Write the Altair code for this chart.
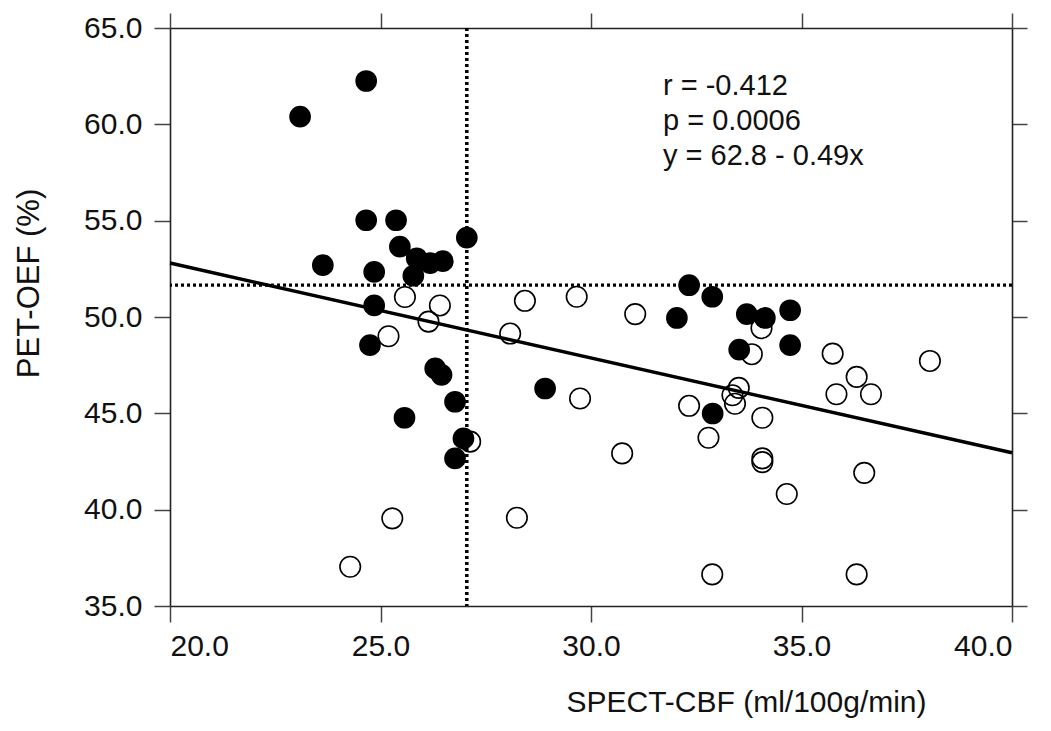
import altair as alt
import pandas as pd

# Filled circles (x = SPECT-CBF, y = PET-OEF)
filled_x = [24.66, 23.09, 24.66, 25.37, 27.05, 25.46, 25.86, 26.18, 26.48, 25.78,
            23.63, 24.85, 24.85, 24.75, 26.30, 26.45, 26.77, 25.57, 26.97, 26.77,
            28.91, 32.33, 32.88, 32.04, 33.70, 34.13, 34.73, 33.52, 34.73, 32.89]
filled_y = [62.25, 60.40, 55.02, 55.02, 54.12, 53.65, 53.05, 52.80, 52.90, 52.14,
            52.69, 52.34, 50.60, 48.54, 47.33, 47.00, 45.60, 44.77, 43.70, 42.66,
            46.29, 51.65, 51.05, 49.95, 50.15, 49.95, 50.35, 48.31, 48.54, 44.99]

# Open circles
open_x = [25.58, 26.41, 26.14, 25.19, 27.13, 25.28, 24.28, 28.43, 29.66, 31.05,
          28.08, 34.05, 33.82, 29.74, 32.33, 32.79, 33.51, 33.36, 33.42, 34.07,
          34.07, 34.07, 30.74, 28.24, 32.88, 35.74, 38.05, 36.31, 35.83, 36.65,
          36.49, 34.65, 36.31]
open_y = [51.04, 50.60, 49.76, 49.00, 43.53, 39.55, 37.04, 50.84, 51.05, 50.15,
          49.14, 49.42, 48.07, 45.77, 45.39, 43.73, 46.32, 45.94, 45.50, 44.77,
          42.66, 42.47, 42.92, 39.58, 36.64, 48.10, 47.72, 46.89, 45.99, 45.99,
          41.91, 40.81, 36.64]

# Regression line end points (as drawn)
fit_x = [20.0, 40.0]
fit_y = [52.80, 42.95]

# Dotted cut-off lines
cut_x = [27.05]
cut_y = [51.65]

stats_lines = ["r = -0.412", "p = 0.0006", "y = 62.8 - 0.49x"]

x_ticks = [20, 25, 30, 35, 40]
y_ticks = [35, 40, 45, 50, 55, 60, 65]

FONT = "Liberation Sans"

filled_df = pd.DataFrame({"x": filled_x, "y": filled_y})
open_df = pd.DataFrame({"x": open_x, "y": open_y})
fit_df = pd.DataFrame({"x": fit_x, "y": fit_y})
vcut_df = pd.DataFrame({"x": cut_x})
hcut_df = pd.DataFrame({"y": cut_y})
stats_df = pd.DataFrame({"t": [stats_lines]})

xs = alt.Scale(domain=[20, 40], nice=False, zero=False)
ys = alt.Scale(domain=[35, 65], nice=False, zero=False)

axis_common = dict(
    grid=False, domainColor="#222", domainWidth=1.6, tickColor="#444",
    tickWidth=1.5, labelFont=FONT, titleFont=FONT, labelColor="#111",
    titleColor="#111", titleFontWeight="normal",
)

x_bottom = alt.Axis(orient="bottom", values=x_ticks, format=".1f", tickSize=16,
                    labelPadding=9, labelFontSize=30, title="SPECT-CBF (ml/100g/min)",
                    titleFontSize=30, titleX=576, titleY=96, titleAlign="center",
                    titleBaseline="middle", **axis_common)
y_left = alt.Axis(orient="left", values=y_ticks, format=".1f", tickSize=16,
                  labelPadding=12, labelFontSize=30, title="PET-OEF (%)",
                  titleFontSize=31, titleX=-141, titleY=255, titleAlign="center",
                  titleBaseline="middle", titleAngle=-90, **axis_common)
x_top = alt.Axis(orient="top", values=x_ticks, tickSize=15, labels=False, title=None,
                 **axis_common)
y_right = alt.Axis(orient="right", values=y_ticks, tickSize=15, labels=False, title=None,
                   **axis_common)

filled = alt.Chart(filled_df).mark_circle(size=470, color="black", opacity=1).encode(
    x=alt.X("x:Q", scale=xs, axis=x_bottom),
    y=alt.Y("y:Q", scale=ys, axis=y_left),
)

opened = alt.Chart(open_df).mark_point(shape="circle", filled=False, size=420,
                                       strokeWidth=1.6, color="black", opacity=1).encode(
    x=alt.X("x:Q", scale=xs, axis=x_top),
    y=alt.Y("y:Q", scale=ys, axis=y_right),
)

fit = alt.Chart(fit_df).mark_line(color="black", strokeWidth=3.5).encode(
    x=alt.X("x:Q", scale=xs, axis=None),
    y=alt.Y("y:Q", scale=ys, axis=None),
)

vcut = alt.Chart(vcut_df).mark_rule(color="black", strokeWidth=3.5,
                                    strokeDash=[3, 3]).encode(
    x=alt.X("x:Q", scale=xs, axis=None),
)
hcut = alt.Chart(hcut_df).mark_rule(color="black", strokeWidth=3.2,
                                    strokeDash=[3, 3]).encode(
    y=alt.Y("y:Q", scale=ys, axis=None),
)

stats = alt.Chart(stats_df).mark_text(align="left", baseline="top", font=FONT,
                                      fontSize=29, lineHeight=35, color="#111").encode(
    x=alt.value(493), y=alt.value(44), text="t"
)

chart = alt.layer(filled, opened, fit, vcut, hcut, stats).resolve_axis(
    x="independent", y="independent"
).properties(
    width=842, height=578,
    autosize=alt.AutoSizeParams(type="none"),
    padding={"left": 162, "top": 20, "right": 31, "bottom": 115},
).configure_view(stroke=None)

chart.save("out.html", embed_options={"renderer": "svg", "actions": False})
